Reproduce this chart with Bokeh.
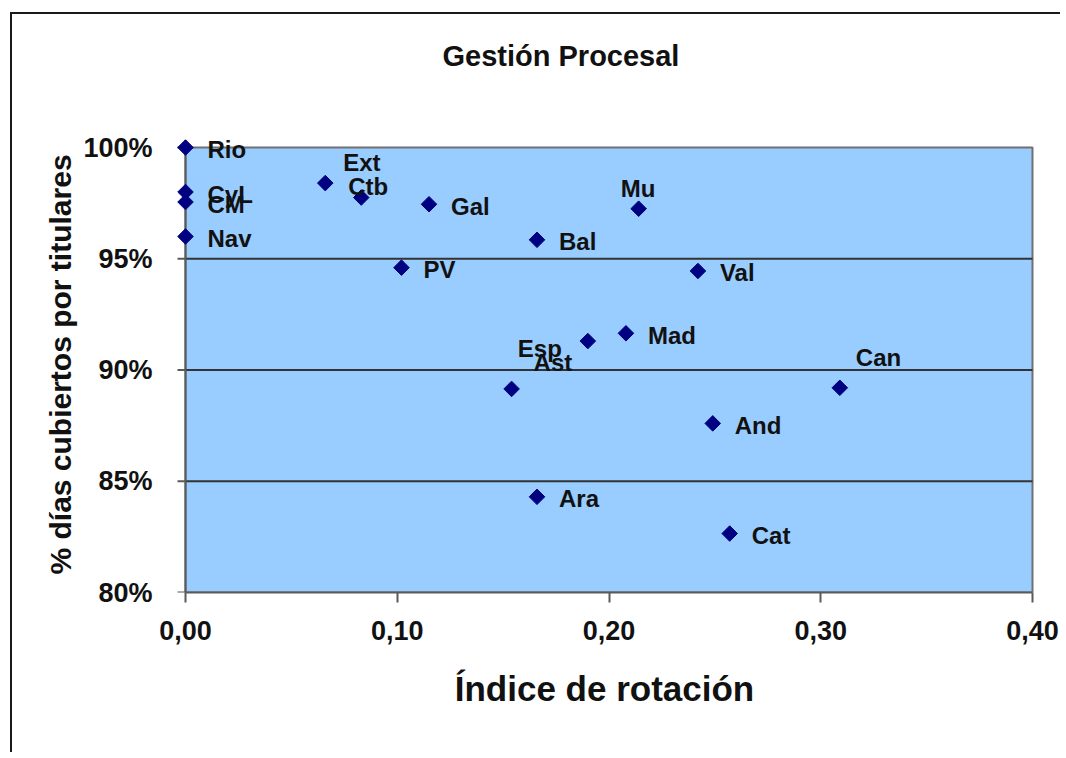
import math
from bokeh.plotting import figure
from bokeh.models import ColumnDataSource, FixedTicker, CustomJSTickFormatter, Range1d, Title
from bokeh.core.properties import value
from bokeh.embed import file_html
from bokeh.resources import INLINE

# ---- data ----
regions = ["Rio", "CyL", "CM", "Nav", "Ext", "Ctb", "Gal", "PV", "Bal", "Mu",
           "Val", "Mad", "Esp", "Ast", "Can", "And", "Ara", "Cat"]
rotation = [0.000, 0.000, 0.000, 0.000, 0.066, 0.083, 0.115, 0.102, 0.166, 0.214,
            0.242, 0.208, 0.190, 0.154, 0.309, 0.249, 0.166, 0.257]
coverage = [100.0, 98.0, 97.55, 96.0, 98.4, 97.75, 97.45, 94.6, 95.85, 97.25,
            94.45, 91.65, 91.3, 89.15, 89.2, 87.6, 84.3, 82.65]
x_ticks = [0.0, 0.1, 0.2, 0.3, 0.4]
y_ticks = [80, 85, 90, 95, 100]
grid_levels = [85, 90, 95]

X_MIN, X_MAX = 0.0, 0.4
Y_MIN, Y_MAX = 80, 100

# label placement (screen pixels: right, down) - layout, not data
default_off = (22, 2)
special_off = {"Ext": (18, -21), "Ctb": (-13, -11), "Mu": (-18, -20),
               "Esp": (-70, 7), "Ast": (22, -26), "Can": (16, -30)}
dx = [special_off.get(r, default_off)[0] for r in regions]
dy = [special_off.get(r, default_off)[1] for r in regions]

src = ColumnDataSource(dict(x=rotation, y=coverage, name=regions, dx=dx, dy=dy))

FONT = "Liberation Sans"
AXIS_COL = "#5a5a5a"

# plot-area geometry in pixels
AREA_W, AREA_H = 847, 445
PAD_L, PAD_T, PAD_R = 11, 11, 2
px_x = AREA_W / (X_MAX - X_MIN)
px_y = AREA_H / (Y_MAX - Y_MIN)

p = figure(width=1050, height=740, output_backend="svg", toolbar_location=None,
           x_range=Range1d(X_MIN - PAD_L / px_x, X_MAX + PAD_R / px_x),
           y_range=Range1d(Y_MIN, Y_MAX + PAD_T / px_y),
           min_border_left=173 - PAD_L, min_border_right=30 - PAD_R,
           min_border_top=133 - PAD_T, min_border_bottom=162)
p.styles = {"margin-left": "10px", "margin-top": "12px",
            "border-left": "2px solid #1a1a1a", "border-top": "2px solid #1a1a1a"}

p.background_fill_color = "white"
p.border_fill_color = "white"
p.outline_line_color = None

# plot area
p.quad(left=[X_MIN], right=[X_MAX], bottom=[Y_MIN], top=[Y_MAX],
       fill_color="#99CCFF", line_color="#707070", line_width=2)

# grid lines
p.xgrid.visible = False
p.ygrid.visible = False
p.segment(x0=[X_MIN] * len(grid_levels), x1=[X_MAX] * len(grid_levels),
          y0=grid_levels, y1=grid_levels, line_color="#333333", line_width=2)

# y axis line and outward ticks (drawn at x = 0 inside the padded frame)
p.segment(x0=[X_MIN], x1=[X_MIN], y0=[Y_MIN], y1=[Y_MAX], line_color=AXIS_COL, line_width=2)
p.segment(x0=[X_MIN - 8 / px_x] * len(y_ticks), x1=[X_MIN] * len(y_ticks),
          y0=y_ticks, y1=y_ticks, line_color=AXIS_COL, line_width=2)

# title (second blank line lifts it into place)
p.title = Title(text="Gestión Procesal\n ", align="left", offset=268,
                vertical_align="top", standoff=40, text_line_height=1.35,
                text_font=FONT, text_font_size="29px", text_font_style="bold",
                text_color="#111111")

# axes
for ax in (p.xaxis[0], p.yaxis[0]):
    ax.minor_tick_line_color = None
    ax.major_label_text_font = FONT
    ax.major_label_text_font_size = "27px"
    ax.major_label_text_font_style = "bold"
    ax.major_label_text_color = "#111111"
    ax.axis_label_text_font = FONT
    ax.axis_label_text_font_style = "bold"
    ax.axis_label_text_color = "#111111"

p.xaxis.ticker = FixedTicker(ticks=x_ticks)
p.xaxis.formatter = CustomJSTickFormatter(code="return tick.toFixed(2).replace('.', ',');")
p.xaxis.bounds = (X_MIN, X_MAX)
p.xaxis.axis_line_color = AXIS_COL
p.xaxis.axis_line_width = 2
p.xaxis.major_tick_line_color = AXIS_COL
p.xaxis.major_tick_line_width = 2
p.xaxis.major_tick_in = 0
p.xaxis.major_tick_out = 10
p.xaxis.major_label_standoff = 18
p.xaxis.axis_label = "Índice de rotación"
p.xaxis.axis_label_text_font_size = "35px"
p.xaxis.axis_label_standoff = 26

p.yaxis.ticker = FixedTicker(ticks=y_ticks)
p.yaxis.formatter = CustomJSTickFormatter(code="return Math.round(tick) + '%';")
p.yaxis.axis_line_color = None
p.yaxis.major_tick_line_color = None
p.yaxis.major_tick_in = 0
p.yaxis.major_tick_out = 0
p.yaxis.major_label_standoff = 22
p.yaxis.axis_label = "% días cubiertos por titulares"
p.yaxis.axis_label_text_font_size = "30px"
p.yaxis.axis_label_standoff = 3

# markers
p.scatter("x", "y", source=src, marker="square", angle=math.pi / 4, size=11,
          fill_color="#000080", line_color="#000080")

# labels
p.text("x", "y", text="name", source=src, x_offset="dx", y_offset="dy",
       text_font=value(FONT), text_font_size="24px", text_font_style="bold",
       text_color="#111111", text_align="left", text_baseline="middle")

open("out.html", "w").write(file_html(p, INLINE))
